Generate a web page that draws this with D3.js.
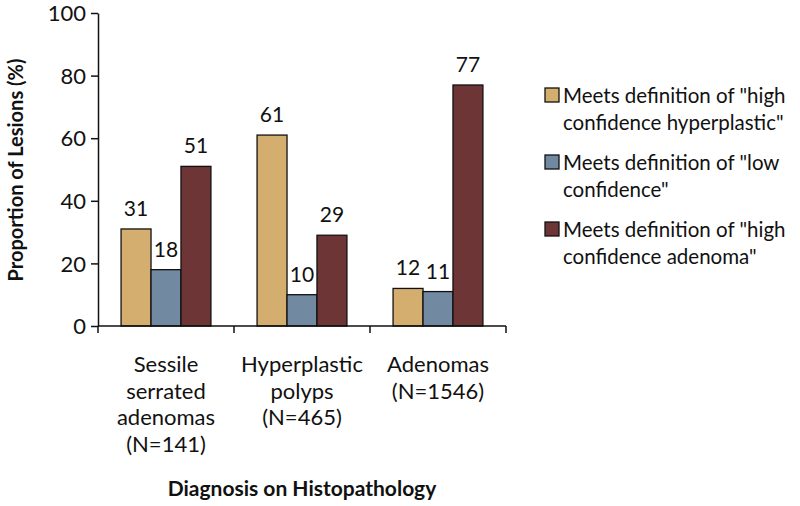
<!DOCTYPE html>
<html><head><meta charset="utf-8">
<script src="https://cdn.jsdelivr.net/npm/d3@7"></script>
<style>body{margin:0;background:#fff}svg{display:block}text{font-family:Lato,"Open Sans",sans-serif;fill:#111}</style>
</head><body><svg id="c" width="800" height="506"></svg>
<script>
const categories = ["Sessile serrated adenomas (N=141)", "Hyperplastic polyps (N=465)", "Adenomas (N=1546)"];
const categoryLines = [["Sessile","serrated","adenomas","(N=141)"],["Hyperplastic","polyps","(N=465)"],["Adenomas","(N=1546)"]];
const seriesNames = ["Meets definition of \"high confidence hyperplastic\"", "Meets definition of \"low confidence\"", "Meets definition of \"high confidence adenoma\""];
const legendLines = [["Meets definition of \"high","confidence hyperplastic\""],["Meets definition of \"low","confidence\""],["Meets definition of \"high","confidence adenoma\""]];
const highHyper = [31, 61, 12];
const lowConf = [18, 10, 11];
const highAden = [51, 29, 77];
const yTicks = [0, 20, 40, 60, 80, 100];
const colors = ["#D4AE6E", "#7189A1", "#6D3535"];
const series = [highHyper, lowConf, highAden];

const svg = d3.select("#c");
const x0 = 98, x1 = 506, yTop = 13, yBot = 326;
const x = d3.scaleBand().domain(categories).range([x0, x1]).paddingInner(0).paddingOuter(0);
const xs = d3.scaleBand().domain(d3.range(3)).range([0, x.bandwidth()]).paddingOuter(0.77).paddingInner(0);
const y = d3.scaleLinear().domain([0, 100]).range([yBot, yTop]);

// bars
categories.forEach((c, ci) => {
  series.forEach((s, si) => {
    const bx = x(c) + xs(si), bw = xs.bandwidth();
    svg.append("rect").attr("x", bx).attr("y", y(s[ci])).attr("width", bw).attr("height", y(0) - y(s[ci]))
      .attr("fill", colors[si]).attr("stroke", "#111").attr("stroke-width", 1.3);
    svg.append("text").attr("x", bx + bw / 2).attr("y", y(s[ci]) - 13).attr("text-anchor", "middle")
      .attr("font-size", 21).text(s[ci]);
  });
});

// y axis
const ya = svg.append("g").attr("transform", `translate(${x0},0)`)
  .call(d3.axisLeft(y).tickValues(yTicks).tickSize(7).tickSizeOuter(0).tickPadding(5));
ya.select(".domain").attr("stroke", "#111").attr("stroke-width", 1.5);
ya.selectAll(".tick line").attr("stroke", "#111").attr("stroke-width", 1.5);
ya.selectAll(".tick text").attr("font-size", 22).attr("font-family", "Lato").attr("fill", "#111").attr("dy", "0.35em");

// x axis line and ticks at band boundaries
svg.append("line").attr("x1", x0).attr("x2", x1).attr("y1", yBot).attr("y2", yBot).attr("stroke", "#111").attr("stroke-width", 1.5);
const bounds = [x0].concat(categories.map(c => x(c) + x.bandwidth()));
svg.selectAll(".xt").data(bounds).enter().append("line")
  .attr("x1", d => d).attr("x2", d => d).attr("y1", yBot).attr("y2", yBot + 7)
  .attr("stroke", "#111").attr("stroke-width", 1.5);

// category labels
categories.forEach((c, ci) => {
  const t = svg.append("text").attr("x", x(c) + x.bandwidth() / 2).attr("y", 372)
    .attr("text-anchor", "middle").attr("font-size", 22);
  categoryLines[ci].forEach((ln, li) => t.append("tspan").attr("x", x(c) + x.bandwidth() / 2).attr("y", 372 + li * 26.7).text(ln));
});

// axis titles
svg.append("text").attr("transform", "translate(23,170) rotate(-90)").attr("text-anchor", "middle")
  .attr("font-size", 20).attr("font-weight", "bold").text("Proportion of Lesions (%)");
svg.append("text").attr("x", 302).attr("y", 496).attr("text-anchor", "middle")
  .attr("font-size", 21).attr("font-weight", "bold").text("Diagnosis on Histopathology");

// legend
seriesNames.forEach((n, i) => {
  const ly = 88 + i * 67;
  svg.append("rect").attr("x", 545).attr("y", ly).attr("width", 14).attr("height", 14)
    .attr("fill", colors[i]).attr("stroke", "#111").attr("stroke-width", 1.3);
  const t = svg.append("text").attr("font-size", 20.5);
  legendLines[i].forEach((ln, li) => t.append("tspan").attr("x", 563).attr("y", ly + 15 + li * 26.5).text(ln));
});
</script></body></html>
